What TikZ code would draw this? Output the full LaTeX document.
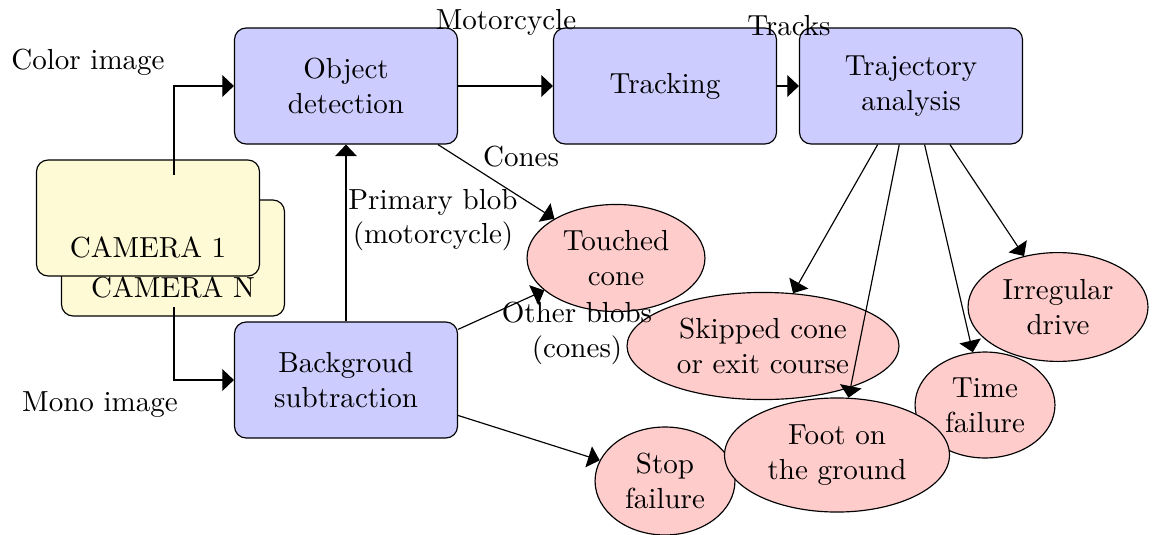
\documentclass[tikz,border=0pt]{standalone}
\usetikzlibrary{shapes.geometric,arrows.meta}
\definecolor{camyellow}{RGB}{255,250,214}
\begin{document}
\begin{tikzpicture}[x=0.34453pt,y=-0.34453pt,
  box/.style={draw,rounded corners,fill=blue!20,minimum width=76.83pt,minimum height=39.97pt,align=center,inner sep=0pt},
  cam/.style={draw,rounded corners,fill=camyellow,minimum width=76.83pt,minimum height=39.97pt,inner sep=0pt},
  res/.style={draw,ellipse,fill=red!20,align=center,inner sep=0pt},
  lbl/.style={align=center,inner sep=0pt},
  arr/.style={-{Triangle[width=7.5pt,length=4pt]}}]
\useasboundingbox (0,0) rectangle (1161,534);
% cameras
\node[cam] (camN) at (173,258) {};
\node[lbl] (camNtext) at (173,287) {CAMERA N};
\node[cam] (cam1) at (148,218) {};
\node[lbl] (cam1text) at (148,247) {CAMERA 1};
\coordinate (c1) at (174,175);
\coordinate (cN) at (174,307);
% boxes
\node[box] (obj) at (346,86) {Object\\detection};
\node[box] (trk) at (665,86) {Tracking};
\node[box] (traj) at (911,86) {Trajectory\\analysis};
\node[box] (bg) at (346,380) {Backgroud\\subtraction};
% results
\node[res,minimum width=61.3pt,minimum height=36.9pt] (touch) at (616,258) {Touched\\cone};
\node[res,minimum width=93.7pt,minimum height=36.9pt] (skip) at (763,346) {Skipped cone\\or exit course};
\node[res,minimum width=48.2pt,minimum height=37.2pt] (stop) at (665,481) {Stop\\failure};
\node[res,minimum width=48.2pt,minimum height=36.5pt] (time) at (985,405) {Time\\failure};
\node[res,minimum width=62pt,minimum height=37.5pt] (irr) at (1058,307) {Irregular\\drive};
\node[res,minimum width=77.5pt,minimum height=39.3pt] (foot) at (837,455) {Foot on\\the ground};
% connectors
\draw[arr] (c1) |- (obj.west);
\draw[arr] (cN) |- (bg.west);
\draw[arr] (obj) -- (trk);
\draw[arr] (trk) -- (traj);
\draw[arr] (obj) -- (touch);
\draw[arr] (bg) -- (obj);
\draw[arr] (bg) -- (touch);
\draw[arr] (bg) -- (stop);
\draw[arr] (traj) -- (skip);
\draw[arr] (traj) -- (foot);
\draw[arr] (traj) -- (time);
\draw[arr] (traj) -- (irr);
% labels
\node[lbl] (lcolor) at (88,62) {Color image};
\node[lbl] (lmono) at (100,405) {Mono image};
\node[lbl] (lmoto) at (506,22) {Motorcycle};
\node[lbl] (ltracks) at (789,26) {Tracks};
\node[lbl] (lcones) at (521,157) {Cones};
\node[lbl] (lprim) at (433,220) {Primary blob\\(motorcycle)};
\node[lbl] (lother) at (577,333) {Other blobs\\(cones)};
\end{tikzpicture}
\end{document}
